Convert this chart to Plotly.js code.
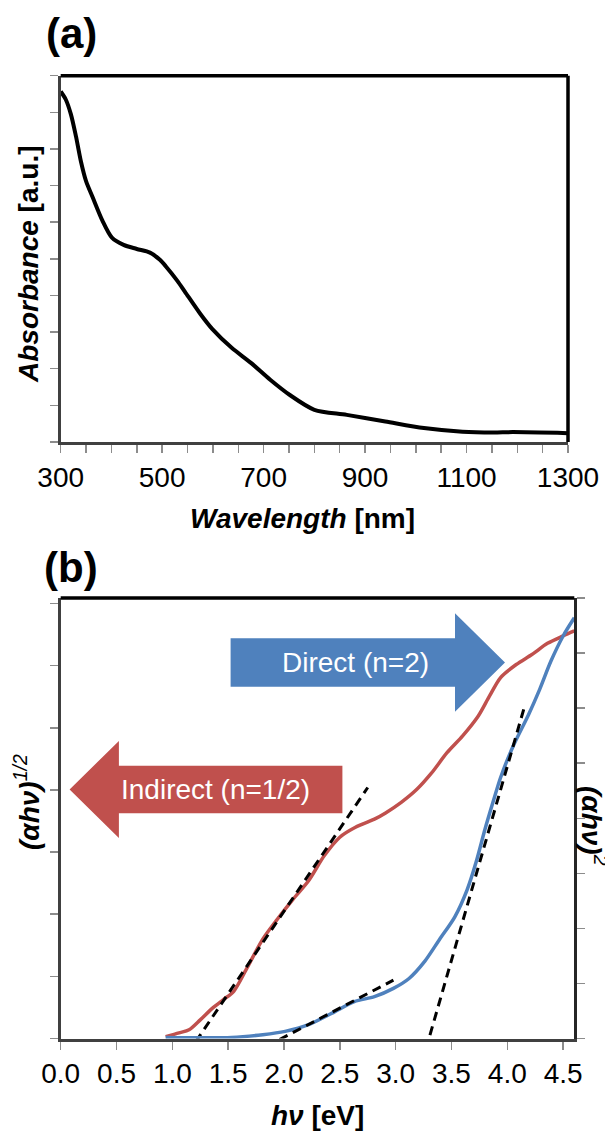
<!DOCTYPE html>
<html><head><meta charset="utf-8">
<script src="https://cdn.plot.ly/plotly-3.0.1.min.js"></script>
<style>html,body{margin:0;padding:0;background:#fff}#chart{width:605px;height:1131px}</style>
</head><body><div id="chart"></div>
<script>
// ---- Panel (a): absorbance spectrum ----
const wavelength = [300, 310, 320, 330, 340, 350, 363, 382, 401, 424, 450, 476, 495, 507, 530, 545, 575, 599, 637, 675, 713, 751, 800, 864, 940, 1016, 1092, 1153, 1191, 1300];
const absorbance = [9.57, 9.35, 8.95, 8.35, 7.65, 7.12, 6.68, 6.05, 5.58, 5.38, 5.27, 5.17, 4.98, 4.80, 4.40, 4.10, 3.50, 3.08, 2.57, 2.16, 1.70, 1.29, 0.88, 0.74, 0.56, 0.38, 0.28, 0.26, 0.27, 0.24];

// ---- Panel (b): Tauc plots ----
const energyIndirect = [0.94, 1.06, 1.15, 1.25, 1.36, 1.46, 1.55, 1.67, 1.81, 1.94, 2.08, 2.22, 2.36, 2.50, 2.64, 2.81, 2.91, 3.05, 3.19, 3.32, 3.46, 3.60, 3.74, 3.84, 3.94, 4.08, 4.22, 4.36, 4.50, 4.60];
const indirectValues = [0.03, 0.09, 0.14, 0.30, 0.49, 0.63, 0.76, 1.14, 1.60, 1.92, 2.24, 2.54, 2.94, 3.24, 3.40, 3.53, 3.63, 3.80, 4.01, 4.27, 4.60, 4.87, 5.19, 5.51, 5.81, 6.02, 6.18, 6.36, 6.48, 6.56];
const energyDirect = [0.94, 1.53, 1.81, 2.01, 2.22, 2.43, 2.63, 2.81, 2.98, 3.12, 3.26, 3.39, 3.53, 3.64, 3.72, 3.80, 3.87, 3.94, 4.05, 4.19, 4.29, 4.39, 4.50, 4.60];
const directValues = [0.02, 0.02, 0.07, 0.13, 0.25, 0.46, 0.67, 0.76, 0.91, 1.09, 1.40, 1.79, 2.21, 2.70, 3.20, 3.80, 4.28, 4.74, 5.30, 5.88, 6.34, 6.85, 7.31, 7.64];

// linear fits (tangent lines)
const indirectFitX = [1.21, 2.75];
const indirectFitY = [-0.05, 4.04];
const directFitLowX = [1.96, 2.98];
const directFitLowY = [-0.02, 1.06];
const directFitHighX = [3.27, 4.16];
const directFitHighY = [-0.2, 6.07];

const arrowLabels = ['Direct (n=2)', 'Indirect (n=1/2)'];

// ---- helpers / styles ----
const W = 605, H = 1131;
const px = v => v / W;
const py = v => 1 - v / H;
const FONT = 'Liberation Sans, Arial, sans-serif';
const RED = '#C0504D', BLUE = '#4F81BD';
const AX_LINE = '#404040', TICK_C = '#8c8c8c';

const traces = [
  {x: wavelength, y: absorbance, xaxis: 'x', yaxis: 'y', mode: 'lines',
   line: {color: '#000', width: 4, shape: 'spline', smoothing: 0.8}},
  {x: energyIndirect, y: indirectValues, xaxis: 'x2', yaxis: 'y2', mode: 'lines',
   line: {color: RED, width: 3.5, shape: 'spline', smoothing: 0.8}},
  {x: energyDirect, y: directValues, xaxis: 'x2', yaxis: 'y3', mode: 'lines',
   line: {color: BLUE, width: 3.5, shape: 'spline', smoothing: 0.8}},
  {x: indirectFitX, y: indirectFitY, xaxis: 'x2', yaxis: 'y2', mode: 'lines',
   line: {color: '#000', width: 3, dash: '9px,6px'}},
  {x: directFitLowX, y: directFitLowY, xaxis: 'x2', yaxis: 'y3', mode: 'lines',
   line: {color: '#000', width: 3, dash: '9px,6px'}},
  {x: directFitHighX, y: directFitHighY, xaxis: 'x2', yaxis: 'y3', mode: 'lines',
   line: {color: '#000', width: 3, dash: '9px,6px'}}
];

const tickFont = {family: FONT, size: 28, color: '#000'};
const baseAxis = {showgrid: false, zeroline: false, showline: true, linecolor: AX_LINE, linewidth: 3,
  ticks: 'outside', ticklen: 8, tickwidth: 1.5, tickcolor: TICK_C, tickfont: tickFont, fixedrange: true};

function pathFrom(points) {
  return 'M ' + points.map(p => px(p[0]).toFixed(5) + ',' + py(p[1]).toFixed(5)).join(' L ') + ' Z';
}
const directArrow = pathFrom([[230.6,638.3],[455,638.3],[455,613.3],[505,662.5],[455,711.7],[455,686.7],[230.6,686.7]]);
const indirectArrow = pathFrom([[342.4,765.7],[118.9,765.7],[118.9,741],[69.6,789.4],[118.9,838],[118.9,813.3],[342.4,813.3]]);

const layout = {
  width: W, height: H, autosize: false,
  margin: {l: 0, r: 0, t: 0, b: 0},
  paper_bgcolor: '#fff', plot_bgcolor: '#fff',
  showlegend: false,
  font: {family: FONT, color: '#000'},
  xaxis: Object.assign({}, baseAxis, {domain: [px(60.7), px(568)], anchor: 'y', range: [300, 1300],
    tick0: 300, dtick: 200,
    minor: {tick0: 300, dtick: 50, ticks: 'outside', ticklen: 8, tickwidth: 1.5, tickcolor: TICK_C}}),
  yaxis: Object.assign({}, baseAxis, {domain: [py(442), py(75.7)], anchor: 'x', range: [0, 10],
    dtick: 1, showticklabels: false}),
  xaxis2: Object.assign({}, baseAxis, {domain: [px(60.7), px(574.3)], anchor: 'y2', range: [0, 4.6],
    tick0: 0, dtick: 0.5, tickformat: '.1f'}),
  yaxis2: Object.assign({}, baseAxis, {domain: [py(1038.5), py(598)], anchor: 'x2', range: [0, 7.09],
    dtick: 1, showticklabels: false}),
  yaxis3: Object.assign({}, baseAxis, {overlaying: 'y2', side: 'right', anchor: 'x2', range: [0, 8],
    dtick: 1, showticklabels: false, linecolor: '#262626'}),
  shapes: [
    {type: 'line', xref: 'x domain', yref: 'y domain', x0: 0, x1: 1, y0: 1, y1: 1, line: {color: '#000', width: 3.5}},
    {type: 'line', xref: 'x domain', yref: 'y domain', x0: 1, x1: 1, y0: 0, y1: 1, line: {color: '#000', width: 3.5}},
    {type: 'line', xref: 'x2 domain', yref: 'y2 domain', x0: 0, x1: 1, y0: 1, y1: 1, line: {color: '#000', width: 3.5}},
    {type: 'path', xref: 'paper', yref: 'paper', path: directArrow, fillcolor: BLUE, line: {width: 0}},
    {type: 'path', xref: 'paper', yref: 'paper', path: indirectArrow, fillcolor: RED, line: {width: 0}}
  ],
  annotations: [
    {text: '<b>(a)</b>', x: px(71), y: py(34), xref: 'paper', yref: 'paper', showarrow: false,
     xanchor: 'center', yanchor: 'middle', font: {family: FONT, size: 42, color: '#000'}},
    {text: '<b>(b)</b>', x: px(71), y: py(567), xref: 'paper', yref: 'paper', showarrow: false,
     xanchor: 'center', yanchor: 'middle', font: {family: FONT, size: 42, color: '#000'}},
    {text: '<b><i>Absorbance</i> [a.u.]</b>', x: px(28), y: py(264), xref: 'paper', yref: 'paper', showarrow: false,
     textangle: -90, xanchor: 'center', yanchor: 'middle', font: {family: FONT, size: 28, color: '#000'}},
    {text: '<b><i>Wavelength</i> [nm]</b>', x: px(302), y: py(518), xref: 'paper', yref: 'paper', showarrow: false,
     xanchor: 'center', yanchor: 'middle', font: {family: FONT, size: 28, color: '#000'}},
    {text: '<b><i>(αhν)</i></b><i><sup>1/2</sup></i>', x: px(27), y: py(802), xref: 'paper', yref: 'paper', showarrow: false,
     textangle: -90, xanchor: 'center', yanchor: 'middle', font: {family: FONT, size: 28, color: '#000'}},
    {text: '<b><i>(αhν)</i></b><i><sup>2</sup></i>', x: px(594), y: py(826), xref: 'paper', yref: 'paper', showarrow: false,
     textangle: 90, xanchor: 'center', yanchor: 'middle', font: {family: FONT, size: 28, color: '#000'}},
    {text: '<b><i>hν</i> [eV]</b>', x: px(317.5), y: py(1115), xref: 'paper', yref: 'paper', showarrow: false,
     xanchor: 'center', yanchor: 'middle', font: {family: FONT, size: 28, color: '#000'}},
    {text: arrowLabels[0], x: px(355.6), y: py(662.7), xref: 'paper', yref: 'paper', showarrow: false,
     xanchor: 'center', yanchor: 'middle', font: {family: FONT, size: 28, color: '#fff'}},
    {text: arrowLabels[1], x: px(215.6), y: py(789), xref: 'paper', yref: 'paper', showarrow: false,
     xanchor: 'center', yanchor: 'middle', font: {family: FONT, size: 28, color: '#fff'}}
  ]
};

Plotly.newPlot('chart', traces, layout, {staticPlot: true, displayModeBar: false});
</script>
</body></html>
